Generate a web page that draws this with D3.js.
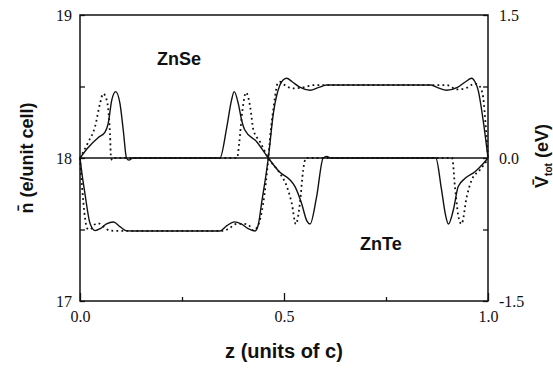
<!DOCTYPE html>
<html>
<head>
	<meta charset="utf-8">
	<script src="https://cdnjs.cloudflare.com/ajax/libs/d3/7.8.2/d3.min.js"></script>
	<style>
		html, body { margin: 0 ; padding: 0 ; background: white ; }
		svg { display: block ; }
		.tick-label { font-family: "Liberation Serif", "DejaVu Serif", serif ; font-size: 16px ; fill: #111 ; }
		.title { font-family: "Liberation Sans", Arial, sans-serif ; font-weight: bold ; fill: #111 ; }
	</style>
</head>
<body>
<svg id="canvas"></svg>
<script>
	// axis ticks
	let zTicks = [ 0, 0.5, 1.0 ] ;
	let zMinor = [ 0.25, 0.75 ] ;
	let nTicks = [ 17, 18, 19 ] ;
	let nMinor = [ 17.5, 18.5 ] ;
	let vTicks = [ -1.5, 0, 1.5 ] ;
	let vMinor = [ -0.75, 0.75 ] ;

	// n-bar, electrons per unit cell (left axis) - [z, n]
	let nSolid = [
		[0,18],[0.02,18.074],[0.045,18.144],[0.061,18.18],[0.069,18.24],[0.078,18.406],[0.0875,18.464],
		[0.098,18.38],[0.106,18.196],[0.114,18.0],[0.12,17.985],[0.13,18],[0.343,18],[0.36,18.22],
		[0.371,18.4],[0.378,18.464],[0.388,18.38],[0.396,18.266],[0.404,18.196],[0.433,18.114],
		[0.4616,18],[0.49,17.9],[0.515,17.846],[0.527,17.8],[0.543,17.683],[0.556,17.56],[0.564,17.538],
		[0.58,17.73],[0.596,18.0],[0.605,18.01],[0.615,18],[0.872,18],[0.886,17.78],[0.896,17.6],
		[0.903,17.538],[0.915,17.636],[0.927,17.8],[0.944,17.858],[0.968,17.904],[0.988,17.96],[1.0,18]
	] ;
	let nDotted = [
		[0,18],[0.02,18.11],[0.037,18.22],[0.049,18.38],[0.057,18.45],[0.065,18.41],[0.0735,18.17],
		[0.076,18.0],[0.08,17.985],[0.086,18],[0.385,18],[0.39,18.1],[0.398,18.33],[0.407,18.457],
		[0.417,18.36],[0.425,18.196],[0.441,18.114],[0.4616,18],[0.49,17.893],[0.507,17.8],[0.519,17.683],
		[0.529,17.538],[0.539,17.683],[0.547,17.916],[0.554,18],[0.912,18],[0.919,17.8],[0.927,17.6],
		[0.935,17.538],[0.948,17.73],[0.96,17.846],[0.98,17.916],[1.0,17.99]
	] ;

	// V-bar tot, eV (right axis) - [z, V]
	let vSolid = [
		[0,0],[0.006,-0.2],[0.012,-0.37],[0.0245,-0.685],[0.037,-0.762],[0.05,-0.74],[0.065,-0.69],
		[0.082,-0.672],[0.098,-0.72],[0.114,-0.764],[0.13,-0.765],[0.343,-0.765],[0.36,-0.71],
		[0.378,-0.67],[0.395,-0.69],[0.412,-0.74],[0.429,-0.765],[0.437,-0.7],[0.445,-0.475],
		[0.4616,0],[0.474,0.47],[0.49,0.765],[0.4985,0.82],[0.5066,0.836],[0.52,0.8],[0.54,0.74],
		[0.564,0.71],[0.585,0.74],[0.605,0.765],[0.86,0.765],[0.878,0.735],[0.899,0.71],[0.925,0.74],
		[0.945,0.8],[0.96,0.836],[0.968,0.8],[0.976,0.71],[0.988,0.4],[1.0,0]
	] ;
	let vDotted = [
		[0,0],[0.005,-0.3],[0.012,-0.62],[0.018,-0.74],[0.025,-0.75],[0.035,-0.7],[0.045,-0.685],
		[0.058,-0.72],[0.072,-0.76],[0.09,-0.765],[0.35,-0.765],[0.365,-0.74],[0.384,-0.69],[0.4,-0.69],
		[0.4125,-0.7],[0.425,-0.76],[0.435,-0.72],[0.449,-0.475],[0.4616,0],[0.466,0.22],[0.472,0.45],
		[0.478,0.64],[0.484,0.78],[0.49,0.8],[0.5,0.77],[0.512,0.74],[0.523,0.73],[0.539,0.735],
		[0.556,0.75],[0.572,0.765],[0.9,0.765],[0.912,0.74],[0.923,0.72],[0.944,0.73],[0.968,0.78],
		[0.98,0.75],[0.988,0.64],[0.995,0.3],[1.0,0]
	] ;
</script>
<script>
	let geom = {
		width: 553,
		height: 368,
		margin: { left: 80, right: 65, top: 15, bottom: 67 }
	} ;
	let scales = {
		x: d3.scaleLinear().domain( [0, 1] ).range( [ geom.margin.left, geom.width - geom.margin.right ] ),
		n: d3.scaleLinear().domain( [17, 19] ).range( [ geom.height - geom.margin.bottom, geom.margin.top ] ),
		v: d3.scaleLinear().domain( [-1.5, 1.5] ).range( [ geom.height - geom.margin.bottom, geom.margin.top ] )
	} ;
	let x0 = scales.x.range()[0], x1 = scales.x.range()[1] ;
	let y0 = scales.n.range()[0], y1 = scales.n.range()[1] ;
	let ink = '#111' ;

	let svg = d3.select( '#canvas' )
		.attr( 'width', geom.width )
		.attr( 'height', geom.height ) ;

	// zero line
	svg.append( 'line' )
		.attr( 'x1', x0 ).attr( 'x2', x1 )
		.attr( 'y1', scales.n(18) ).attr( 'y2', scales.n(18) )
		.attr( 'stroke', ink ).attr( 'stroke-width', 1.3 ) ;

	// curves
	let lineN = d3.line().x( d => scales.x(d[0]) ).y( d => scales.n(d[1]) ).curve( d3.curveMonotoneX ) ;
	let lineV = d3.line().x( d => scales.x(d[0]) ).y( d => scales.v(d[1]) ).curve( d3.curveMonotoneX ) ;

	let curves = [
		{ data: nSolid, fn: lineN, dash: null },
		{ data: vSolid, fn: lineV, dash: null },
		{ data: nDotted, fn: lineN, dash: '1.8,3.2' },
		{ data: vDotted, fn: lineV, dash: '1.8,3.2' }
	] ;
	curves.forEach( c => {
		svg.append( 'path' )
			.attr( 'd', c.fn( c.data ) )
			.attr( 'fill', 'none' )
			.attr( 'stroke', ink )
			.attr( 'stroke-width', c.dash ? 1.8 : 1.4 )
			.attr( 'stroke-dasharray', c.dash )
			.attr( 'stroke-linejoin', 'round' ) ;
	} ) ;

	// axes, ticks pointing inwards
	let addAxis = function( axis, tr ) {
		let g = svg.append( 'g' ).attr( 'transform', tr ).call( axis ) ;
		g.select( '.domain' ).remove() ;
		g.selectAll( 'line' ).attr( 'stroke', ink ).attr( 'stroke-width', 1.3 ) ;
		g.selectAll( 'text' ).attr( 'class', 'tick-label' ).attr( 'font-size', null ).attr( 'font-family', null ) ;
		return g ;
	} ;

	addAxis( d3.axisBottom( scales.x ).tickValues( zTicks ).tickSize( -8 ).tickPadding( 10 ).tickFormat( d3.format( '.1f' ) ),
		'translate(0,' + y0 + ')' ) ;
	addAxis( d3.axisBottom( scales.x ).tickValues( zMinor ).tickSize( -4 ).tickFormat( '' ), 'translate(0,' + y0 + ')' ) ;
	addAxis( d3.axisLeft( scales.n ).tickValues( nTicks ).tickSize( -5 ).tickPadding( 8 ).tickFormat( d3.format( 'd' ) ),
		'translate(' + x0 + ',0)' ) ;
	addAxis( d3.axisLeft( scales.n ).tickValues( nMinor ).tickSize( -5 ).tickFormat( '' ), 'translate(' + x0 + ',0)' ) ;
	addAxis( d3.axisRight( scales.v ).tickValues( vTicks ).tickSize( -5 ).tickPadding( 11 ).tickFormat( d => d == 0 ? '0.0' : d3.format( '.1f' )( d ).replace( '\u2212', '-' ) ),
		'translate(' + x1 + ',0)' ) ;
	addAxis( d3.axisRight( scales.v ).tickValues( vMinor ).tickSize( -5 ).tickFormat( '' ), 'translate(' + x1 + ',0)' ) ;

	// frame
	svg.append( 'rect' )
		.attr( 'x', x0 ).attr( 'y', y1 )
		.attr( 'width', x1 - x0 ).attr( 'height', y0 - y1 )
		.attr( 'fill', 'none' ).attr( 'stroke', ink ).attr( 'stroke-width', 1.5 ) ;

	// titles
	svg.append( 'text' ).attr( 'class', 'title' )
		.attr( 'x', (x0 + x1) / 2 ).attr( 'y', 358 )
		.attr( 'text-anchor', 'middle' ).attr( 'font-size', 20 )
		.text( 'z (units of c)' ) ;

	svg.append( 'text' ).attr( 'class', 'title' )
		.attr( 'transform', 'translate(33,' + scales.n(18) + ') rotate(-90)' )
		.attr( 'text-anchor', 'middle' ).attr( 'font-size', 18 )
		.text( 'n\u0304 (e/unit cell)' ) ;

	let vt = svg.append( 'text' ).attr( 'class', 'title' )
		.attr( 'transform', 'translate(548,156) rotate(-90)' )
		.attr( 'text-anchor', 'middle' ).attr( 'font-size', 18 ) ;
	vt.append( 'tspan' ).text( 'V\u0304' ) ;
	vt.append( 'tspan' ).attr( 'dy', 4 ).attr( 'font-size', 10 ).text( 'tot' ) ;
	vt.append( 'tspan' ).attr( 'dy', -4 ).text( ' (eV)' ) ;

	// region labels
	svg.append( 'text' ).attr( 'class', 'title' )
		.attr( 'x', 157 ).attr( 'y', 65 ).attr( 'font-size', 18 )
		.text( 'ZnSe' ) ;
	svg.append( 'text' ).attr( 'class', 'title' )
		.attr( 'x', 360 ).attr( 'y', 250 ).attr( 'font-size', 18 )
		.text( 'ZnTe' ) ;
</script>
</body>
</html>
